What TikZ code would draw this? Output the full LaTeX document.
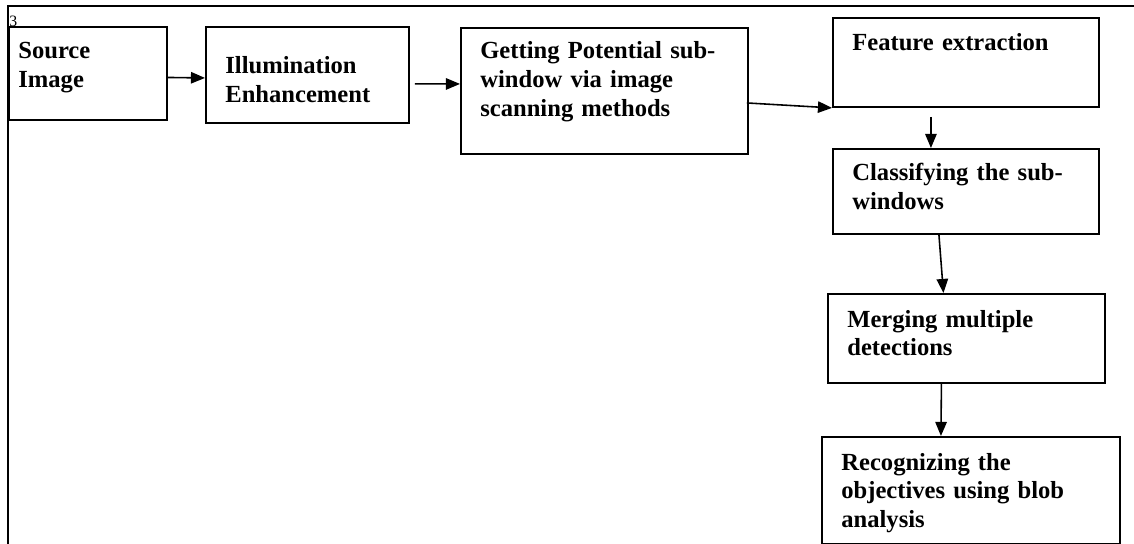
\documentclass[tikz,border=0pt]{standalone}
\usepackage{fontspec}
\setmainfont{Liberation Serif}
\usepackage{tikz}
\usetikzlibrary{arrows.meta}
\usetikzlibrary{positioning}

\begin{document}
\begin{tikzpicture}[
    x=0.02cm, y=-0.02cm,
    box/.style={
        draw, line width=1.1pt,
        anchor=north west,
        inner sep=0pt
    },
    txt/.style={
        anchor=base west, inner sep=0pt,
        text width=6cm, align=left,
        font=\fontsize{14pt}{16.5pt}\selectfont\bfseries
    },
    flow/.style={-{Triangle[length=8pt,width=6.5pt]}, line width=0.9pt}
]
\useasboundingbox (0,0) rectangle (1134,544);
\clip (0,0) rectangle (1134,544);
% frame of the page
\draw[line width=0.8pt] (1134,6) -| (8,544);
\node[anchor=base west, inner sep=0pt, font=\fontsize{9pt}{10pt}\selectfont] (pgno) at (9,27) {3};

% boxes
\node[box, fill=white, minimum width=3.16cm, minimum height=1.86cm] (src) at (8,26) {};
\node[box, minimum width=4.06cm, minimum height=1.92cm] (illum) at (205,26) {};
\node[box, minimum width=5.74cm, minimum height=2.52cm] (get) at (460,27) {};
\node[box, minimum width=5.32cm, minimum height=1.78cm] (feat) at (832,17) {};
\node[box, minimum width=5.32cm, minimum height=1.70cm] (cls) at (832,148) {};
\node[box, minimum width=5.54cm, minimum height=1.78cm] (merge) at (827,293) {};
\node[box, minimum width=5.96cm, minimum height=2.14cm] (recog) at (821,436) {};

% texts
\node[txt] (src-t) at (18,59) {Source\\Image};
\node[txt] (illum-t) at (225,74) {Illumination\\Enhancement};
\node[txt] (get-t) at (480,59) {Getting Potential sub-\\window via image\\scanning methods};
\node[txt] (feat-t) at (852,51) {Feature extraction};
\node[txt] (cls-t) at (852,181) {Classifying the sub-\\windows};
\node[txt] (merge-t) at (847,327) {Merging multiple\\detections};
\node[txt] (recog-t) at (841,470) {Recognizing the\\objectives using blob\\analysis};

% arrows
\draw[flow] ([shift={(0,4)}]src.east) -- ([shift={(0,3)}]illum.west);
\draw[flow] ([shift={(5,9)}]illum.east) -- ([shift={(0,-7)}]get.west);
\draw[flow] ([shift={(-2,12)}]get.east) -- (feat.south west);
\draw[flow] ([shift={(-35,9)}]feat.south) -- ([shift={(-35,0)}]cls.north);
\draw[flow] ([shift={(-27,0)}]cls.south) -- ([shift={(-23,0)}]merge.north);
\draw[flow] ([shift={(-25,0)}]merge.south) -- ([shift={(-30,0)}]recog.north);
\end{tikzpicture}
\end{document}
